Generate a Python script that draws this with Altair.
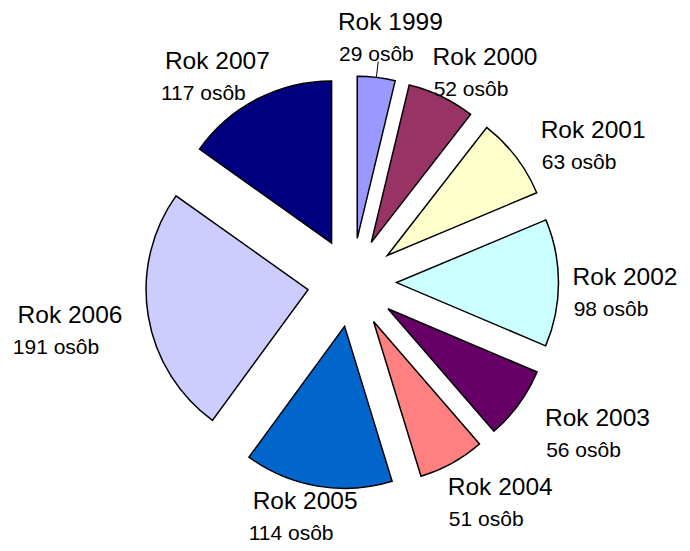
import altair as alt
import pandas as pd

# ---- data ----
years = ["Rok 1999", "Rok 2000", "Rok 2001", "Rok 2002", "Rok 2003",
         "Rok 2004", "Rok 2005", "Rok 2006", "Rok 2007"]
counts = [29, 52, 63, 98, 56, 51, 114, 191, 117]
count_labels = [f"{c} osôb" for c in counts]
colors = ["#9999FF", "#993366", "#FFFFCC", "#CCFFFF", "#660066",
          "#FF8080", "#0066CC", "#CCCCFF", "#000080"]
leader_years = ["Rok 1999"]

# ---- layout / style ----
W, H = 674, 535
CX, CY = 344, 274.5      # pie centre (pixels in the view)
R = 162                  # slice radius
EXPLODE = 44.5           # explosion distance
LRX, LRY = 300, 241      # label ellipse radii
LSX, LSY = -4, 11        # label ellipse shift
FONT = "Liberation Sans"

df = pd.DataFrame({"year": years, "value": counts, "label2": count_labels,
                   "order": list(range(len(years)))})

base = (
    alt.Chart(df)
    .transform_window(cum="sum(value)", sort=[alt.SortField("order")], frame=[None, 0])
    .transform_joinaggregate(total="sum(value)")
    .transform_calculate(t0="(datum.cum - datum.value) / datum.total * 2 * PI")
    .transform_calculate(t1="datum.cum / datum.total * 2 * PI")
    .transform_calculate(mid="(datum.t0 + datum.t1) / 2")
    .transform_calculate(px=f"{CX} + {EXPLODE} * sin(datum.mid)")
    .transform_calculate(py=f"{CY} - {EXPLODE} * cos(datum.mid)")
    .transform_calculate(lx=f"clamp({CX + LSX} + {LRX} * sin(datum.mid), 55, 610)")
    .transform_calculate(
        ly=f"clamp({CY + LSY} - {LRY} * cos(datum.mid)"
           f" - 18 * pow(max(cos(datum.mid), 0), 20), 24, 510)"
    )
)

arcs = base.mark_arc(outerRadius=R, stroke="black", strokeWidth=1.5).encode(
    x=alt.X("px:Q", scale=None, axis=None),
    y=alt.Y("py:Q", scale=None, axis=None),
    theta=alt.Theta("t0:Q", scale=None, stack=None),
    theta2=alt.Theta2("t1:Q"),
    color=alt.Color("year:N", scale=alt.Scale(domain=years, range=colors), legend=None),
)

line1 = base.mark_text(font=FONT, fontSize=24.5, baseline="middle", align="center",
                       dy=-16, dx=7, color="black").encode(
    x=alt.X("lx:Q", scale=None, axis=None),
    y=alt.Y("ly:Q", scale=None, axis=None),
    text="year:N",
)

line2 = base.mark_text(font=FONT, fontSize=21, baseline="middle", align="center",
                       dy=16, dx=-7, color="black").encode(
    x=alt.X("lx:Q", scale=None, axis=None),
    y=alt.Y("ly:Q", scale=None, axis=None),
    text="label2:N",
)

leaders = (
    base.transform_filter(alt.FieldOneOfPredicate(field="year", oneOf=leader_years))
    .transform_calculate(ax=f"{CX} + {R + EXPLODE} * sin(datum.mid)")
    .transform_calculate(ay=f"{CY} - {R + EXPLODE} * cos(datum.mid)")
    .transform_calculate(bx=f"{CX} + {R + EXPLODE + 16} * sin(datum.mid)")
    .transform_calculate(by=f"{CY} - {R + EXPLODE + 16} * cos(datum.mid)")
    .mark_rule(color="black", strokeWidth=1)
    .encode(
        x=alt.X("ax:Q", scale=None, axis=None),
        y=alt.Y("ay:Q", scale=None, axis=None),
        x2="bx:Q",
        y2="by:Q",
    )
)

chart = (
    alt.layer(arcs, leaders, line1, line2)
    .properties(width=W, height=H, autosize=alt.AutoSizeParams(type="none"), padding=0)
    .configure_view(stroke=None)
)

chart.save("out.html", embed_options={"renderer": "svg", "actions": False})
